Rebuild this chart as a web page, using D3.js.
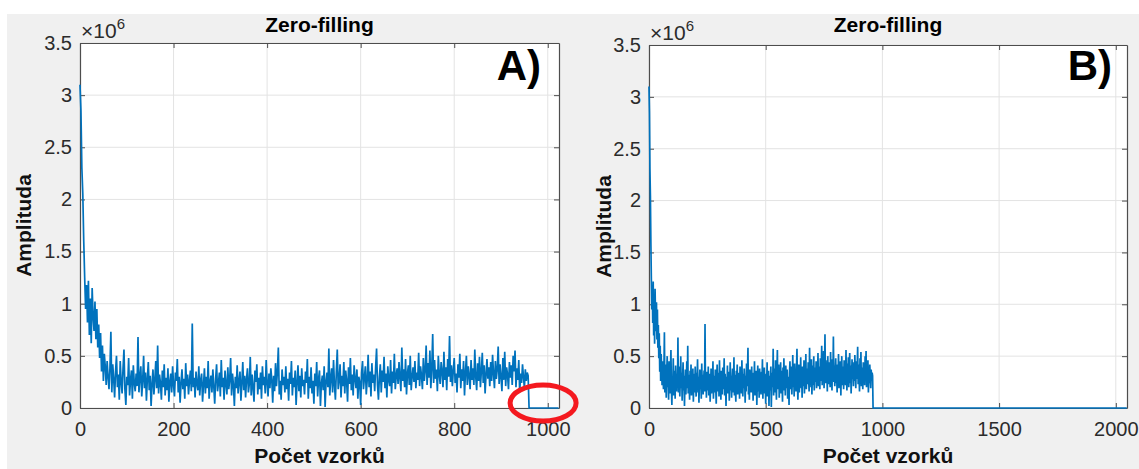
<!DOCTYPE html>
<html>
<head>
<meta charset="utf-8">
<script src="https://cdn.jsdelivr.net/npm/d3@7"></script>
<style>
  body { margin: 0; background: #fff; }
  svg { display: block; }
  text { font-family: "Liberation Sans", Arial, Helvetica, sans-serif; }
</style>
</head>
<body>
<svg id="fig" width="1139" height="469"></svg>
<script>
// Measured echo amplitudes (×10^6), one value every `signalStep` samples (samples 0 … 958)
const signalStep = 2;
const amplitude = [
  3.10, 2.85, 2.30, 2.05, 1.60, 1.25, 0.95, 1.18, 0.82, 1.22, 0.70, 1.05, 0.62, 1.15, 0.88, 0.74, 1.02, 0.66, 0.95, 0.58,
  0.80, 0.48, 0.72, 0.35, 0.60, 0.26, 0.52, 0.40, 0.22, 0.45, 0.30, 0.18, 0.38, 0.73, 0.15, 0.42, 0.28, 0.10, 0.35, 0.50,
  0.20, 0.32, 0.08, 0.45, 0.25, 0.14, 0.38, 0.56, 0.18, 0.03, 0.30, 0.22, 0.48, 0.12, 0.27, 0.36, 0.09, 0.41, 0.24, 0.16,
  0.33, 0.21, 0.68, 0.15, 0.29, 0.40, 0.11, 0.26, 0.50, 0.19, 0.34, 0.07, 0.28, 0.44, 0.17, 0.31, 0.02, 0.23, 0.37, 0.13,
  0.27, 0.45, 0.19, 0.60, 0.14, 0.32, 0.24, 0.08, 0.36, 0.20, 0.42, 0.12, 0.29, 0.17, 0.38, 0.06, 0.25, 0.33, 0.15, 0.40,
  0.22, 0.11, 0.34, 0.26, 0.47, 0.15, 0.30, 0.05, 0.24, 0.37, 0.18, 0.28, 0.09, 0.43, 0.21, 0.32, 0.13, 0.26, 0.36, 0.16,
  0.81, 0.20, 0.29, 0.10, 0.35, 0.23, 0.17, 0.40, 0.12, 0.27, 0.33, 0.06, 0.22, 0.38, 0.14, 0.30, 0.19, 0.45, 0.09, 0.25,
  0.31, 0.15, 0.37, 0.21, 0.04, 0.28, 0.42, 0.16, 0.24, 0.34, 0.11, 0.46, 0.20, 0.29, 0.08, 0.36, 0.23, 0.13, 0.39, 0.18,
  0.27, 0.48, 0.12, 0.33, 0.22, 0.02, 0.30, 0.19, 0.41, 0.14, 0.26, 0.35, 0.07, 0.24, 0.44, 0.17, 0.31, 0.10, 0.28, 0.38,
  0.15, 0.23, 0.49, 0.12, 0.32, 0.20, 0.06, 0.36, 0.25, 0.42, 0.13, 0.29, 0.18, 0.34, 0.09, 0.40, 0.22, 0.30, 0.14, 0.46,
  0.24, 0.11, 0.33, 0.19, 0.38, 0.27, 0.05, 0.31, 0.16, 0.43, 0.21, 0.35, 0.58, 0.13, 0.26, 0.08, 0.37, 0.22, 0.30, 0.15,
  0.40, 0.18, 0.28, 0.07, 0.34, 0.23, 0.45, 0.12, 0.29, 0.20, 0.36, 0.03, 0.25, 0.41, 0.16, 0.31, 0.10, 0.38, 0.21, 0.27,
  0.13, 0.35, 0.24, 0.47, 0.09, 0.30, 0.19, 0.39, 0.14, 0.26, 0.04, 0.33, 0.21, 0.44, 0.11, 0.28, 0.36, 0.02, 0.23, 0.31,
  0.17, 0.40, 0.01, 0.25, 0.34, 0.20, 0.57, 0.12, 0.29, 0.38, 0.15, 0.46, 0.22, 0.08, 0.35, 0.56, 0.18, 0.27, 0.42, 0.10,
  0.31, 0.21, 0.44, 0.14, 0.36, 0.26, 0.06, 0.39, 0.23, 0.48, 0.17, 0.32, 0.12, 0.41, 0.28, 0.19, 0.37, 0.09, 0.30, 0.25,
  0.03, 0.34, 0.45, 0.18, 0.29, 0.40, 0.13, 0.27, 0.51, 0.20, 0.35, 0.11, 0.43, 0.24, 0.32, 0.16, 0.39, 0.57, 0.22, 0.08,
  0.30, 0.42, 0.15, 0.36, 0.25, 0.49, 0.19, 0.33, 0.10, 0.40, 0.27, 0.21, 0.46, 0.14, 0.35, 0.24, 0.52, 0.18, 0.31, 0.38,
  0.23, 0.44, 0.29, 0.16, 0.58, 0.26, 0.37, 0.20, 0.47, 0.13, 0.33, 0.41, 0.22, 0.50, 0.17, 0.30, 0.39, 0.25, 0.45, 0.19,
  0.34, 0.27, 0.53, 0.21, 0.40, 0.31, 0.18, 0.48, 0.26, 0.36, 0.60, 0.22, 0.43, 0.29, 0.55, 0.19, 0.38, 0.71, 0.24, 0.46,
  0.28, 0.37, 0.16, 0.50, 0.32, 0.23, 0.44, 0.35, 0.20, 0.54, 0.27, 0.39, 0.17, 0.47, 0.30, 0.69, 0.25, 0.41, 0.21, 0.36,
  0.48, 0.24, 0.33, 0.15, 0.42, 0.29, 0.52, 0.19, 0.37, 0.26, 0.45, 0.12, 0.34, 0.50, 0.22, 0.40, 0.31, 0.18, 0.46, 0.27,
  0.38, 0.22, 0.56, 0.30, 0.17, 0.43, 0.26, 0.49, 0.20, 0.35, 0.53, 0.24, 0.41, 0.14, 0.32, 0.47, 0.28, 0.39, 0.21, 0.44,
  0.26, 0.51, 0.33, 0.19, 0.45, 0.28, 0.37, 0.59, 0.23, 0.42, 0.30, 0.16, 0.48, 0.27, 0.54, 0.21, 0.39, 0.32, 0.18, 0.44,
  0.29, 0.41, 0.22, 0.50, 0.35, 0.55, 0.20, 0.38, 0.27, 0.46, 0.15, 0.33, 0.24, 0.42, 0.30, 0.19, 0.37, 0.26, 0.34, 0.31
];

// Zero-filled record lengths for the two panels
const fftLengths = [1024, 2048];
const panelTags = ["A)", "B)"];
const xTicksA = [0, 200, 400, 600, 800, 1000];
const xTicksB = [0, 500, 1000, 1500, 2000];
const yTicks = [0, 0.5, 1, 1.5, 2, 2.5, 3, 3.5];
const yMax = 3.5;
const titleText = "Zero-filling";
const xLabelText = "Počet vzorků";
const yLabelText = "Amplituda";

// Panel geometry
const layout = [
  { left: 80,  right: 559,  top: 43, bottom: 408, tagX: 541,  yLabX: 31,  xTicks: xTicksA },
  { left: 649, right: 1127, top: 45, bottom: 408, tagX: 1112, yLabX: 611, xTicks: xTicksB }
];

const lineColor = "#0072BD";
const axisColor = "#4d4d4d";
const gridColor = "#e3e3e3";
const textColor = "#2b2b2b";

const svg = d3.select("#fig");

// figure background (light grey canvas with a thin white margin top/left)
svg.append("rect").attr("x", 0).attr("y", 0).attr("width", 1139).attr("height", 469).attr("fill", "#fff");
svg.append("rect").attr("x", 7).attr("y", 14).attr("width", 1132).attr("height", 455).attr("fill", "#f0f0f0");

// zero-filled series: measured samples followed by zeros up to the record length
function zeroFilled(n) {
  const pts = amplitude.map((v, i) => [i * signalStep, v]);
  for (let k = amplitude.length * signalStep; k < n; k++) pts.push([k, 0]);
  return pts;
}

const fmt = d3.format("~g");

fftLengths.forEach((n, p) => {
  const L = layout[p];
  const x = d3.scaleLinear().domain([0, n]).range([L.left, L.right]);
  const y = d3.scaleLinear().domain([0, yMax]).range([L.bottom, L.top]);
  const g = svg.append("g");

  // plot area
  g.append("rect")
    .attr("x", L.left).attr("y", L.top)
    .attr("width", L.right - L.left).attr("height", L.bottom - L.top)
    .attr("fill", "#fff");

  // grid
  g.append("g").selectAll("line").data(L.xTicks).join("line")
    .attr("x1", d => x(d)).attr("x2", d => x(d))
    .attr("y1", L.top).attr("y2", L.bottom)
    .attr("stroke", gridColor).attr("stroke-width", 1);
  g.append("g").selectAll("line").data(yTicks).join("line")
    .attr("x1", L.left).attr("x2", L.right)
    .attr("y1", d => y(d)).attr("y2", d => y(d))
    .attr("stroke", gridColor).attr("stroke-width", 1);

  // axes: inward ticks on all four sides
  const styleAxis = sel => {
    sel.selectAll("path.domain").attr("stroke", axisColor).attr("stroke-width", 1.2);
    sel.selectAll(".tick line").attr("stroke", axisColor).attr("stroke-width", 1);
    sel.selectAll(".tick text").attr("fill", textColor).style("font-size", "20px")
      .style("font-family", '"Liberation Sans", Arial, sans-serif');
  };
  g.append("g").attr("transform", `translate(0,${L.bottom})`)
    .call(d3.axisBottom(x).tickValues(L.xTicks).tickFormat(fmt).tickSizeInner(-5).tickSizeOuter(0).tickPadding(14))
    .call(styleAxis);
  g.append("g").attr("transform", `translate(0,${L.top})`)
    .call(d3.axisTop(x).tickValues(L.xTicks).tickFormat("").tickSizeInner(-5).tickSizeOuter(0))
    .call(styleAxis);
  g.append("g").attr("transform", `translate(${L.left},0)`)
    .call(d3.axisLeft(y).tickValues(yTicks).tickFormat(fmt).tickSizeInner(-5).tickSizeOuter(0).tickPadding(8))
    .call(styleAxis);
  g.append("g").attr("transform", `translate(${L.right},0)`)
    .call(d3.axisRight(y).tickValues(yTicks).tickFormat("").tickSizeInner(-5).tickSizeOuter(0))
    .call(styleAxis);

  // signal
  g.append("path")
    .datum(zeroFilled(n))
    .attr("fill", "none")
    .attr("stroke", lineColor)
    .attr("stroke-width", 1.7)
    .attr("stroke-linejoin", "miter")
    .attr("d", d3.line().x(d => x(d[0])).y(d => y(d[1])));

  // exponent marker
  const ex = g.append("text").attr("x", L.left + 1).attr("y", L.top - 5)
    .attr("fill", textColor).style("font-size", "21px");
  ex.append("tspan").text("×10");
  ex.append("tspan").attr("dy", -9).style("font-size", "15px").text("6");

  // title
  g.append("text")
    .attr("x", (L.left + L.right) / 2).attr("y", 32)
    .attr("text-anchor", "middle").attr("fill", "#000")
    .style("font-size", "21px").style("font-weight", "bold")
    .text(titleText);

  // axis labels
  g.append("text")
    .attr("x", (L.left + L.right) / 2).attr("y", 463)
    .attr("text-anchor", "middle").attr("fill", "#111")
    .style("font-size", "21px").style("font-weight", "bold")
    .text(xLabelText);
  g.append("text")
    .attr("transform", `translate(${L.yLabX},${(L.top + L.bottom) / 2}) rotate(-90)`)
    .attr("text-anchor", "middle").attr("fill", "#111")
    .style("font-size", "21px").style("font-weight", "bold")
    .text(yLabelText);

  // panel tag
  g.append("text")
    .attr("x", L.tagX).attr("y", 80)
    .attr("text-anchor", "end").attr("fill", "#000")
    .style("font-size", "42px").style("font-weight", "bold")
    .text(panelTags[p]);
});

// highlight of the zero-filled tail in panel A
{
  const L = layout[0];
  const x = d3.scaleLinear().domain([0, fftLengths[0]]).range([L.left, L.right]);
  const y = d3.scaleLinear().domain([0, yMax]).range([L.bottom, L.top]);
  svg.append("ellipse")
    .attr("cx", x(990)).attr("cy", y(0) - 5)
    .attr("rx", 33).attr("ry", 18)
    .attr("fill", "none").attr("stroke", "#f4191f").attr("stroke-width", 5);
}
</script>
</body>
</html>
